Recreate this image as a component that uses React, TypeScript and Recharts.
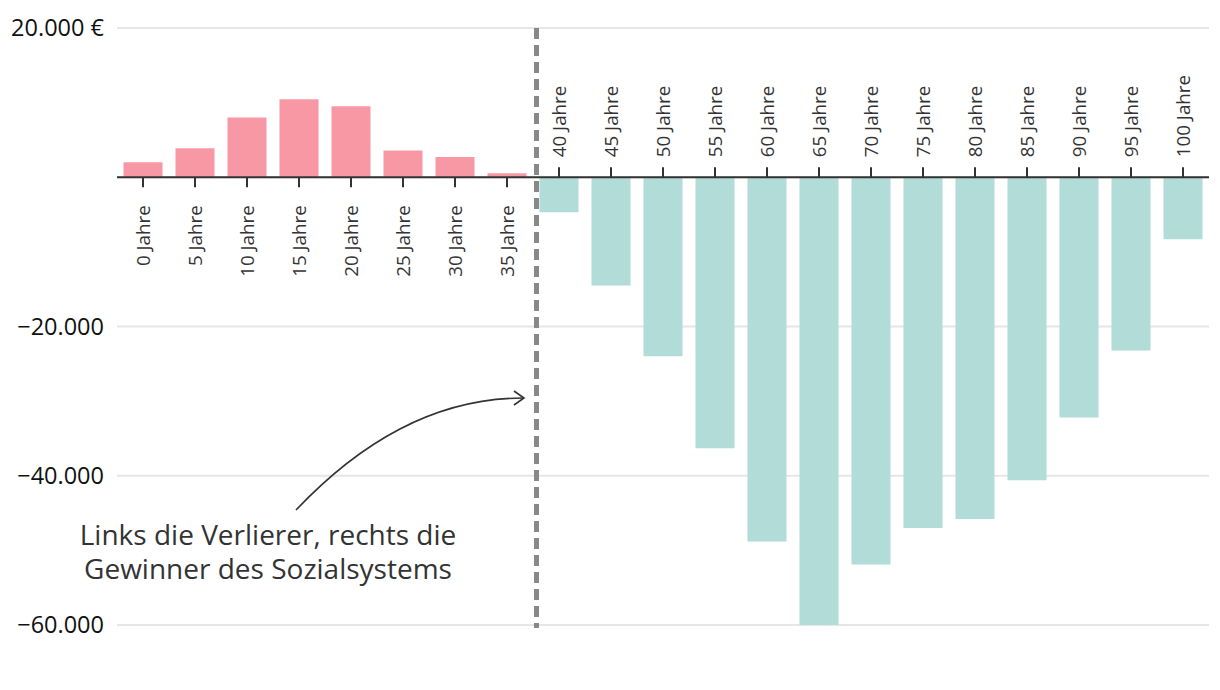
import React from "react";
import { BarChart, Bar, Cell, XAxis, YAxis, CartesianGrid, ReferenceLine, LabelList } from "recharts";

const ages = [0, 5, 10, 15, 20, 25, 30, 35, 40, 45, 50, 55, 60, 65, 70, 75, 80, 85, 90, 95, 100];
const balance = [
  2000, 3900, 8000, 10450, 9500, 3600, 2700, 550,
  -4700, -14500, -24000, -36300, -48800, -60300, -51900, -47000, -45800, -40600, -32200, -23200, -8300,
];
const yTicks = [20000, 0, -20000, -40000, -60000];
const dividerAge = "40 Jahre";
const noteLines = ["Links die Verlierer, rechts die", "Gewinner des Sozialsystems"];

const data = ages.map((a, i) => ({ label: `${a} Jahre`, value: balance[i] }));

const FONT = "'Open Sans', 'Noto Sans', sans-serif";
const PINK = "#f898a4";
const TEAL = "#b2dcd8";

const fmtY = (v: number) => {
  if (v === 0) return "";
  const s = Math.abs(v).toLocaleString("de-DE");
  if (v > 0) return `${s} €`;
  return `\u2212${s}`;
};

// tick + rotated label sitting on the zero line, under/over each bar
const AgeTick = (props: any) => {
  const { x, y, width, height, index } = props;
  const d = data[index];
  if (!d) return null;
  const cx = x + width / 2;
  const pos = d.value >= 0;
  const base = pos ? Math.max(y, y + height) : Math.min(y, y + height);
  return (
    <g>
      <line x1={cx} x2={cx} y1={base} y2={pos ? base + 10 : base - 10} stroke="#333" strokeWidth={2} />
      <g transform={`translate(${cx},${pos ? base + 28 : base - 20}) rotate(-90)`}>
        <text
          x={0}
          y={0}
          dy="0.35em"
          textAnchor={pos ? "end" : "start"}
          fontSize={18.8}
          fontFamily={FONT}
          fill="#333"
        >
          {d.label}
        </text>
      </g>
    </g>
  );
};

const DashedDivider = (props: any) => {
  const { x1, y1, x2, y2 } = props;
  return (
    <line
      x1={x1 + 3.5}
      x2={x2 + 3.5}
      y1={Math.min(y1, y2)}
      y2={Math.max(y1, y2) + 3}
      stroke="#888"
      strokeWidth={5}
      strokeDasharray="11 6"
    />
  );
};

export default function App() {
  return (
    <div style={{ position: "relative", width: 1220, height: 690, background: "#fff" }}>
      <style>{"body{margin:0}"}</style>
      <BarChart
        width={1220}
        height={690}
        data={data}
        margin={{ top: 28, right: 11, left: 0, bottom: 65 }}
        barCategoryGap="12.5%"
      >
        <CartesianGrid vertical={false} stroke="#e6e6e6" strokeWidth={2} />
        <XAxis dataKey="label" hide />
        <YAxis
          width={117}
          domain={[-60000, 20000]}
          ticks={yTicks}
          allowDataOverflow
          tickLine={false}
          axisLine={false}
          tickMargin={7}
          tickFormatter={fmtY}
          tick={{ fontSize: 23.5, fontFamily: FONT, fill: "#111" }}
        />
        <Bar dataKey="value" isAnimationActive={false}>
          {data.map((d, i) => (
            <Cell key={i} fill={d.value >= 0 ? PINK : TEAL} />
          ))}
          <LabelList dataKey="label" content={AgeTick} />
        </Bar>
        <ReferenceLine y={0} stroke="#333" strokeWidth={2} />
        <ReferenceLine x={dividerAge} position="start" shape={DashedDivider} />
      </BarChart>
      <svg
        width={1220}
        height={690}
        style={{ position: "absolute", left: 0, top: 0, pointerEvents: "none" }}
      >
        <path d="M296,510 Q402,398 523,398" fill="none" stroke="#333" strokeWidth={1.6} />
        <path d="M514,391 L524,398 L514,405" fill="none" stroke="#333" strokeWidth={1.6} />
        {noteLines.map((t, i) => (
          <text
            key={i}
            x={268}
            y={545 + i * 34}
            textAnchor="middle"
            fontSize={28}
            fontFamily={FONT}
            fill="#333"
          >
            {t}
          </text>
        ))}
      </svg>
    </div>
  );
}
